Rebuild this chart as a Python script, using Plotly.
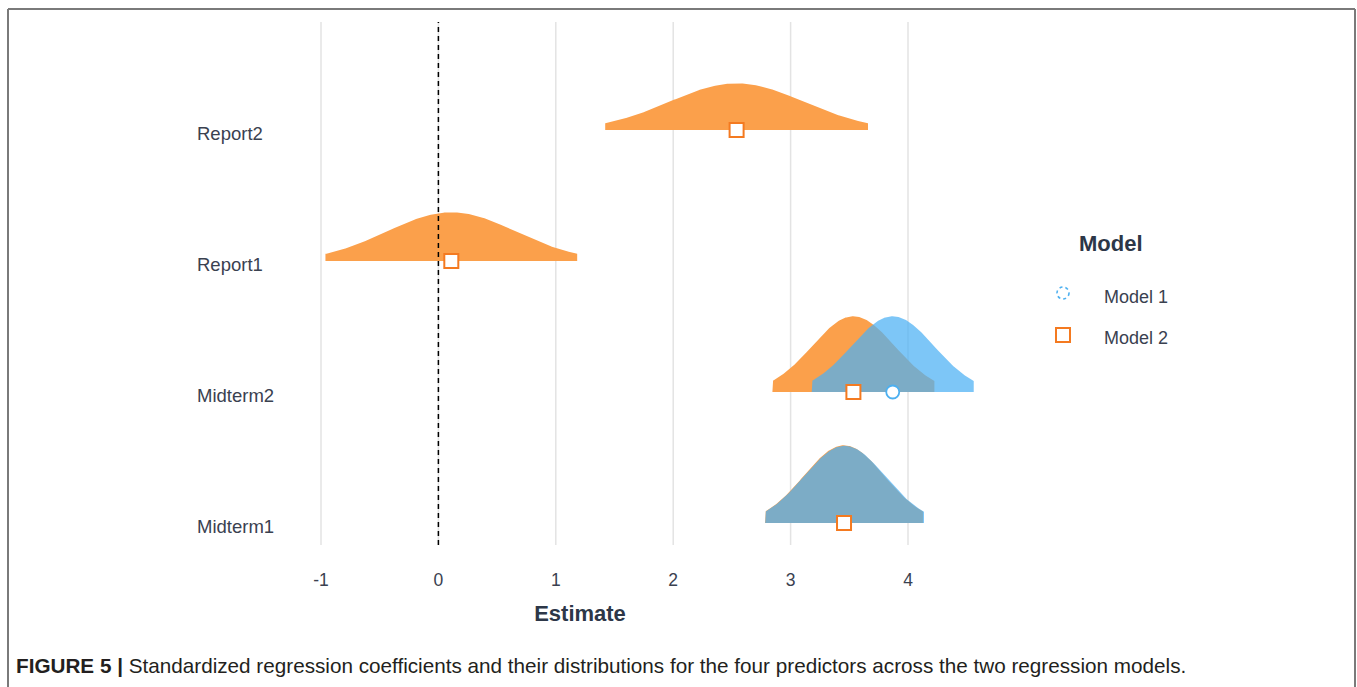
import numpy as np
import plotly.graph_objects as go

# ---- data ----
predictors = ["Midterm1", "Midterm2", "Report1", "Report2"]
row_pos = [1, 2, 3, 4]
model1_est = [3.46, 3.87, None, None]
model1_se = [0.345, 0.352, None, None]
model2_est = [3.455, 3.535, 0.11, 2.54]
model2_se = [0.343, 0.352, 0.547, 0.571]
x_ticks = [-1, 0, 1, 2, 3, 4]

# ---- layout geometry (page pixels) ----
W, H = 1357, 687
L, R, T, B = 160, 1000, 25, 545  # plot area in page pixels
def PX(px):
    return (px - L) / (R - L)
def PY(py):
    return (B - py) / (B - T)

ORANGE = "#FBA04B"
BLUE = "rgba(77,177,244,0.73)"
ORANGE_LINE = "#F47A20"
BLUE_LINE = "#4DB0F0"
SCALE = 0.51

def ridge(mean, se, base):
    xs = np.linspace(mean - 1.96 * se, mean + 1.96 * se, 240)
    ys = base + SCALE * np.exp(-0.5 * ((xs - mean) / se) ** 2) / (se * np.sqrt(2 * np.pi))
    px = np.concatenate([[xs[0]], xs, [xs[-1], xs[0]]])
    py = np.concatenate([[base], ys, [base, base]])
    return px, py

fig = go.Figure()

for est, se, pos in zip(model2_est, model2_se, row_pos):
    if est is None:
        continue
    xx, yy = ridge(est, se, pos)
    fig.add_trace(go.Scatter(x=xx, y=yy, mode="lines", fill="toself",
                             fillcolor=ORANGE, line=dict(width=0, color=ORANGE),
                             hoverinfo="skip", showlegend=False))
for est, se, pos in zip(model1_est, model1_se, row_pos):
    if est is None:
        continue
    xx, yy = ridge(est, se, pos)
    fig.add_trace(go.Scatter(x=xx, y=yy, mode="lines", fill="toself",
                             fillcolor=BLUE, line=dict(width=0, color=BLUE),
                             hoverinfo="skip", showlegend=False))

m1x = [e for e in model1_est if e is not None]
m1y = [p for e, p in zip(model1_est, row_pos) if e is not None]
fig.add_trace(go.Scatter(x=m1x, y=m1y, mode="markers", name="Model 1",
                         marker=dict(symbol="circle", size=13, color="white",
                                     line=dict(color=BLUE_LINE, width=1.8)),
                         showlegend=False))
fig.add_trace(go.Scatter(x=model2_est, y=row_pos, mode="markers", name="Model 2",
                         marker=dict(symbol="square", size=14, color="white",
                                     line=dict(color=ORANGE_LINE, width=2)),
                         showlegend=False))

# x range so that -1 -> px 321 and 4 -> px 908
ppu = (908 - 321) / 5
xmin = -1 - (321 - L) / ppu
xmax = 4 + (R - 908) / ppu
# y range so that row 1 -> py 523, row 4 -> py 130
ppr = (523 - 130) / 3
ymin = 1 - (B - 523) / ppr
ymax = 4 + (130 - T) / ppr

shapes = []
for t in x_ticks:
    shapes.append(dict(type="line", xref="x", yref="paper", x0=t, x1=t, y0=0, y1=PY(22),
                       line=dict(color="#E3E3E3", width=1.5), layer="below"))
shapes.append(dict(type="line", xref="x", yref="paper", x0=0, x1=0, y0=0, y1=PY(22),
                   line=dict(color="black", width=1.5, dash="5px,4px"), layer="above"))
# outer frame
FR = "#7A7A7A"
shapes.append(dict(type="line", xref="paper", yref="paper", x0=PX(8), x1=PX(1355),
                   y0=PY(9), y1=PY(9), line=dict(color=FR, width=2)))
shapes.append(dict(type="line", xref="paper", yref="paper", x0=PX(8), x1=PX(8),
                   y0=PY(9), y1=PY(690), line=dict(color=FR, width=2)))
shapes.append(dict(type="line", xref="paper", yref="paper", x0=PX(1355), x1=PX(1355),
                   y0=PY(9), y1=PY(690), line=dict(color=FR, width=2)))
# legend symbols
shapes.append(dict(type="circle", xref="paper", yref="paper",
                   x0=PX(1057), x1=PX(1069), y0=PY(299), y1=PY(287),
                   line=dict(color=BLUE_LINE, width=1.6, dash="dot"), fillcolor="white"))
shapes.append(dict(type="rect", xref="paper", yref="paper",
                   x0=PX(1056), x1=PX(1070), y0=PY(342), y1=PY(328),
                   line=dict(color=ORANGE_LINE, width=2), fillcolor="white"))

LABEL_COL = "#3A4150"
TITLE_COL = "#2D3748"
FONT = "Liberation Sans, Arial"
annotations = []
for name, pos in zip(predictors, row_pos):
    annotations.append(dict(xref="paper", yref="y", x=PX(195), y=pos, text=name,
                            showarrow=False, xanchor="left", yanchor="middle", yshift=-3,
                            font=dict(family=FONT, size=18.5, color=LABEL_COL)))
annotations += [
    dict(xref="paper", yref="paper", x=PX(1111), y=PY(244), text="<b>Model</b>",
         showarrow=False, xanchor="center", yanchor="middle",
         font=dict(family=FONT, size=22, color=TITLE_COL)),
    dict(xref="paper", yref="paper", x=PX(1102), y=PY(297), text="Model 1",
         showarrow=False, xanchor="left", yanchor="middle",
         font=dict(family=FONT, size=18, color=LABEL_COL)),
    dict(xref="paper", yref="paper", x=PX(1102), y=PY(338), text="Model 2",
         showarrow=False, xanchor="left", yanchor="middle",
         font=dict(family=FONT, size=18, color=LABEL_COL)),
    dict(xref="paper", yref="paper", x=PX(14), y=PY(665),
         text="<b>FIGURE 5 |</b> Standardized regression coefficients and their distributions for the four predictors across the two regression models.",
         showarrow=False, xanchor="left", yanchor="middle",
         font=dict(family=FONT, size=20.7, color="#231F20")),
]

fig.update_layout(
    width=W, height=H,
    margin=dict(l=L, r=W - R, t=T, b=H - B, pad=0),
    paper_bgcolor="white", plot_bgcolor="white",
    shapes=shapes, annotations=annotations,
    showlegend=False,
    xaxis=dict(range=[xmin, xmax], tickvals=x_ticks, ticktext=[str(t) for t in x_ticks],
               showgrid=False, zeroline=False, showline=False, ticks="",
               ticklabelstandoff=22,
               tickfont=dict(family=FONT, size=17.5, color=LABEL_COL),
               title=dict(text="<b>Estimate</b>", standoff=17,
                          font=dict(family=FONT, size=22, color=TITLE_COL))),
    yaxis=dict(range=[ymin, ymax], showgrid=False, zeroline=False, showline=False,
               showticklabels=False, ticks=""),
)

fig.write_html("out.html",
               config={"displayModeBar": False},
               post_script="document.body.style.margin='0';document.body.style.overflow='hidden';")
